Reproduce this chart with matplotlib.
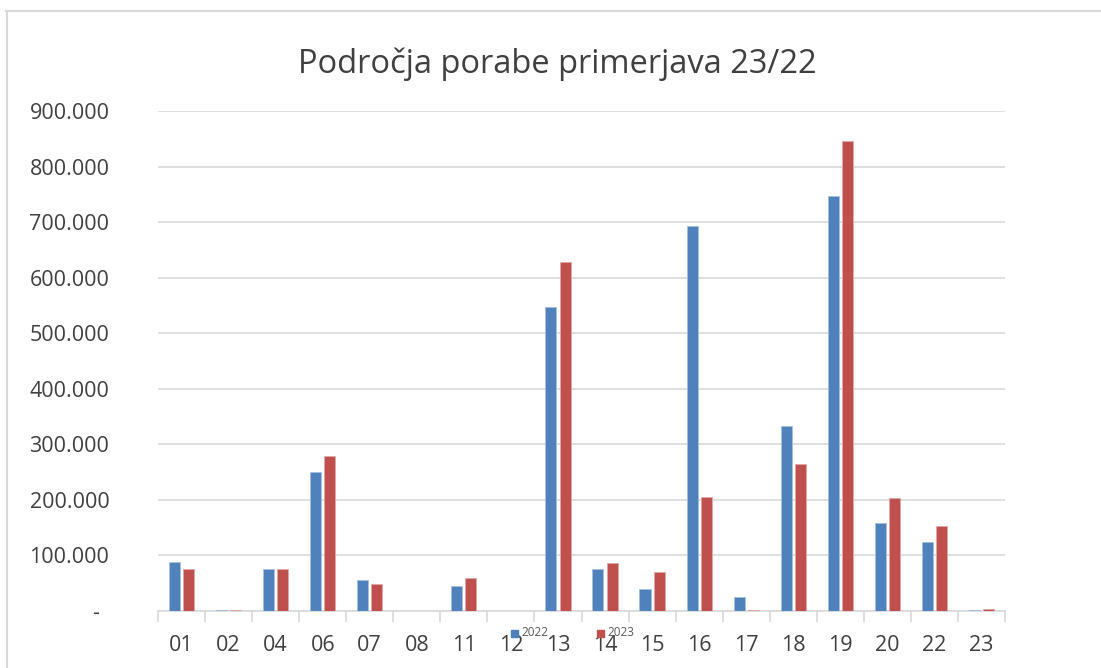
import matplotlib.pyplot as plt
import matplotlib.transforms as mtransforms
from matplotlib.patches import Rectangle
from matplotlib.lines import Line2D
import numpy as np

plt.rcParams['font.family'] = ['Open Sans', 'DejaVu Sans']

# podatki
kategorije = ["01", "02", "04", "06", "07", "08", "11", "12", "13", "14", "15",
              "16", "17", "18", "19", "20", "22", "23"]
leto_2022 = [88000, 1500, 76000, 250000, 55000, 0, 45000, 0, 547000, 75000, 40000,
             693000, 25000, 333000, 747000, 158000, 124000, 1500]
leto_2023 = [75000, 2500, 75500, 279000, 49000, 0, 59000, 0, 628000, 87000, 71000,
             205000, 1000, 265000, 846000, 203000, 153000, 3000]
y_ticks = [0, 100000, 200000, 300000, 400000, 500000, 600000, 700000, 800000, 900000]
y_labels = ["-", "100.000", "200.000", "300.000", "400.000", "500.000", "600.000",
            "700.000", "800.000", "900.000"]

modra = "#4F81BD"
rdeca = "#C0504D"
siva = "#D9D9D9"

fig = plt.figure(figsize=(11.01, 6.68), dpi=100)
W, H = 1101, 668
ax = fig.add_axes([158 / W, 1 - 611 / H, (1005 - 158) / W, 500 / H])

x = np.arange(len(kategorije))
sirina = 0.235
ax.bar(x - 0.15, leto_2022, sirina, color=modra, edgecolor="#A7BFDE", linewidth=0.6, zorder=3)
ax.bar(x + 0.15, leto_2023, sirina, color=rdeca, edgecolor="#E0A9A8", linewidth=0.6, zorder=3)

ax.set_xlim(-0.5, len(kategorije) - 0.5)
ax.set_ylim(0, 900000)
ax.set_yticks(y_ticks)
ax.set_yticklabels(y_labels)
ax.yaxis.grid(True, color=siva, linewidth=1.2, zorder=0)
ax.tick_params(axis="y", length=0, pad=35, labelsize=15.5, labelcolor="#404040")

# oznaka "-" je pri Excelu bolj levo
lbl0 = ax.get_yticklabels()[0]
lbl0.set_transform(lbl0.get_transform() + mtransforms.ScaledTranslation(-0.10, 0, fig.dpi_scale_trans))

ax.set_xticks(x)
ax.set_xticklabels(kategorije)
ax.tick_params(axis="x", which="major", length=0, pad=17, labelsize=15.5, labelcolor="#404040")
ax.set_xticks(np.arange(-0.5, len(kategorije)), minor=True)
ax.tick_params(axis="x", which="minor", length=8, width=1.2, color=siva, direction="out")

for s in ["top", "right", "left"]:
    ax.spines[s].set_visible(False)
ax.spines["bottom"].set_color(siva)
ax.spines["bottom"].set_linewidth(1.2)

fig.text(557 / W, 1 - 64 / H, "Področja porabe primerjava 23/22", ha="center", va="center",
         fontsize=23.5, color="#404040")

# legenda
for xs, barva, leto in [(511, modra, "2022"), (597, rdeca, "2023")]:
    fig.patches.append(Rectangle((xs / W, 1 - 637 / H), 7 / W, 7 / H, color=barva,
                                 transform=fig.transFigure, figure=fig))
    fig.text((xs + 10) / W, 1 - 632 / H, leto, fontsize=8.5, color="#595959", va="center")

# okvir
fig.lines.append(Line2D([6 / W, 1], [1 - 11 / H, 1 - 11 / H], color=siva, linewidth=1.5,
                        transform=fig.transFigure))
fig.lines.append(Line2D([7 / W, 7 / W], [1 - 11 / H, 0], color=siva, linewidth=1.5,
                        transform=fig.transFigure))

fig.savefig("out.png", dpi=100)
